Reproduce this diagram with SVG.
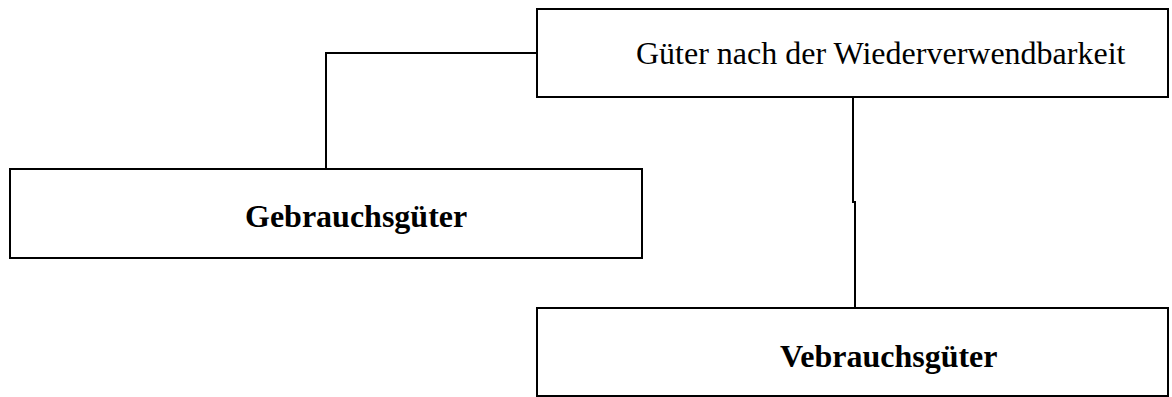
<svg xmlns="http://www.w3.org/2000/svg" width="1172" height="397" viewBox="0 0 1172 397">
<style>
.box{fill:#fff;stroke:#000;stroke-width:2}
.lbl{font-family:"Liberation Serif","Times New Roman",serif;font-size:32px;fill:#000}
.b{font-weight:bold}
.con{fill:none;stroke:#000;stroke-width:2}
</style>
<rect width="1172" height="397" fill="#fff"/>
<g id="connectors">
<polyline class="con" points="537,53 326,53 326,169"/>
<polyline class="con" points="853,97 853,202 855,202 855,308"/>
</g>
<g id="root">
<rect class="box" x="537" y="9" width="631" height="88"/>
<text class="lbl" x="636" y="64">Güter nach der Wiederverwendbarkeit</text>
</g>
<g id="gebrauch">
<rect class="box" x="10" y="169" width="632" height="89"/>
<text class="lbl b" x="245" y="227">Gebrauchsgüter</text>
</g>
<g id="verbrauch">
<rect class="box" x="537" y="308" width="631" height="88"/>
<text class="lbl b" x="780" y="367">Vebrauchsgüter</text>
</g>
</svg>
